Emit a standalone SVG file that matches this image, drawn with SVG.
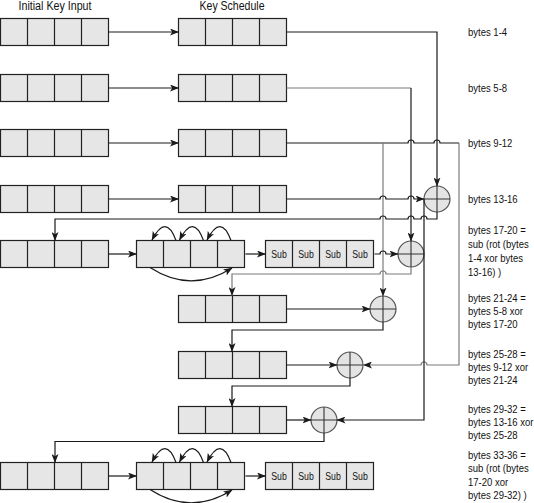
<svg xmlns="http://www.w3.org/2000/svg" width="534" height="503" viewBox="0 0 534 503">
<style>
.bx{fill:#e6e6e6;stroke:#222;stroke-width:1.2}
.cl{stroke:#222;stroke-width:1.2}
.c{fill:none;stroke:#1a1a1a;stroke-width:1.2}
.g{fill:none;stroke:#7a7a7a;stroke-width:1.2}
.a{marker-end:url(#ah)}
.x circle{fill:#e4e4e4;stroke:#555;stroke-width:1.2}
.x path{stroke:#333;stroke-width:1.1;fill:none}
text{font-family:"Liberation Sans",Arial,sans-serif;fill:#111}
.h{font-size:12.5px;text-anchor:middle}
.s{font-size:10.5px;text-anchor:middle}
.l{font-size:11.2px}
</style>
<defs>
<marker id="ah" viewBox="0 0 9 7" refX="8.5" refY="3.5" markerWidth="9" markerHeight="7" markerUnits="userSpaceOnUse" orient="auto">
<path d="M0,0 L9,3.5 L0,7 L2.2,3.5 z" fill="#1a1a1a"/>
</marker>
<g id="b4">
<rect class="bx" x="0" y="0" width="108" height="27"/>
<path class="cl" d="M27,0V27M54,0V27M81,0V27"/>
</g>
<g id="sb">
<use href="#b4"/>
<text class="s" x="13.5" y="17.5" textLength="15.5" lengthAdjust="spacingAndGlyphs">Sub</text>
<text class="s" x="40.5" y="17.5" textLength="15.5" lengthAdjust="spacingAndGlyphs">Sub</text>
<text class="s" x="67.5" y="17.5" textLength="15.5" lengthAdjust="spacingAndGlyphs">Sub</text>
<text class="s" x="94.5" y="17.5" textLength="15.5" lengthAdjust="spacingAndGlyphs">Sub</text>
</g>
<g id="xr" class="x">
<circle cx="0" cy="0" r="13"/>
<path d="M-13,0H13M0,-13V13"/>
</g>
</defs>

<text class="h" x="55" y="10" textLength="73" lengthAdjust="spacingAndGlyphs">Initial Key Input</text>
<text class="h" x="232" y="10" textLength="65" lengthAdjust="spacingAndGlyphs">Key Schedule</text>

<g id="in1"><use href="#b4" x="0.5" y="18.5"/></g>
<g id="in2"><use href="#b4" x="0.5" y="74.5"/></g>
<g id="in3"><use href="#b4" x="0.5" y="129.5"/></g>
<g id="in4"><use href="#b4" x="0.5" y="185.5"/></g>
<g id="ks1"><use href="#b4" x="178.5" y="18.5"/></g>
<g id="ks2"><use href="#b4" x="178.5" y="74.5"/></g>
<g id="ks3"><use href="#b4" x="178.5" y="129.5"/></g>
<g id="ks4"><use href="#b4" x="178.5" y="185.5"/></g>
<g id="w5"><use href="#b4" x="0.5" y="240.5"/></g>
<g id="rot5"><use href="#b4" x="136.5" y="240.5"/></g>
<g id="sub5"><use href="#sb" x="265.5" y="240.5"/></g>
<g id="ks6"><use href="#b4" x="178.5" y="295.5"/></g>
<g id="ks7"><use href="#b4" x="178.5" y="351.5"/></g>
<g id="ks8"><use href="#b4" x="178.5" y="406.5"/></g>
<g id="w9"><use href="#b4" x="0.5" y="462.5"/></g>
<g id="rot9"><use href="#b4" x="136.5" y="462.5"/></g>
<g id="sub9"><use href="#sb" x="265.5" y="462.5"/></g>

<g id="xor1"><use href="#xr" x="437" y="199"/></g>
<g id="xor2"><use href="#xr" x="411" y="254"/></g>
<g id="xor3"><use href="#xr" x="383" y="309"/></g>
<g id="xor4"><use href="#xr" x="350" y="365"/></g>
<g id="xor5"><use href="#xr" x="324" y="420"/></g>

<g id="connectors">
<path class="c a" d="M108.5,32H178.5"/>
<path class="c a" d="M108.5,88H178.5"/>
<path class="c a" d="M108.5,143H178.5"/>
<path class="c a" d="M108.5,199H178.5"/>
<path class="c a" d="M286.5,32H437V186"/>
<path class="g" d="M286.5,88H411"/>
<path class="c a" d="M411,88V241"/>
<path class="c" d="M286.5,143H408A3,3 0 0 1 414,143H434A3,3 0 0 1 440,143H459"/>
<path class="g a" d="M459,143V365H427A3,3 0 0 0 421,365H363.5"/>
<path class="g a" d="M383,143V296"/>
<path class="c a" d="M286.5,199H380A3,3 0 0 1 386,199H408A3,3 0 0 1 414,199H424"/>
<path class="c a" d="M424,199V420H337"/>
<path class="c a" d="M437,212V219H427A3,3 0 0 0 421,219H414A3,3 0 0 0 408,219H386A3,3 0 0 0 380,219H55V240.5"/>
<path class="c a" d="M108.5,254H136.5"/>
<path class="c a" d="M245.5,254H265.5"/>
<path class="c a" d="M374.5,254H380A3,3 0 0 1 386,254H398"/>
<path class="c a" d="M176,240.5Q166,213 152,240"/>
<path class="c a" d="M203.5,240.5Q193.5,213 179.5,240"/>
<path class="c a" d="M231,240.5Q221,213 207,240"/>
<path class="c a" d="M150,267.5Q191,294 232,268"/>
<path class="g a" d="M411,267V274H386A3,3 0 0 0 380,274H232V295.5"/>
<path class="c a" d="M286.5,309H370"/>
<path class="c a" d="M383,322V330H232V351.5"/>
<path class="c a" d="M286.5,365H337"/>
<path class="c a" d="M350,378V386H232V406.5"/>
<path class="c a" d="M286.5,420H311"/>
<path class="c a" d="M324,433V441.5H55V462.5"/>
<path class="c a" d="M108.5,476H136.5"/>
<path class="c a" d="M245.5,476H265.5"/>
<path class="c a" d="M176,462.5Q166,435 152,462"/>
<path class="c a" d="M203.5,462.5Q193.5,435 179.5,462"/>
<path class="c a" d="M231,462.5Q221,435 207,462"/>
<path class="c a" d="M150,489.5Q191,516 232,490"/>
</g>

<g id="labels" class="l" transform="translate(468 0) scale(0.85 1)">
<text x="0" y="36">bytes 1-4</text>
<text x="0" y="92">bytes 5-8</text>
<text x="0" y="147">bytes 9-12</text>
<text x="0" y="203">bytes 13-16</text>
<text x="0" y="234">bytes 17-20 =</text>
<text x="0" y="248">sub (rot (bytes</text>
<text x="0" y="262">1-4 xor bytes</text>
<text x="0" y="276">13-16) )</text>
<text x="0" y="302">bytes 21-24 =</text>
<text x="0" y="315">bytes 5-8 xor</text>
<text x="0" y="328">bytes 17-20</text>
<text x="0" y="358">bytes 25-28 =</text>
<text x="0" y="371">bytes 9-12 xor</text>
<text x="0" y="384">bytes 21-24</text>
<text x="0" y="413">bytes 29-32 =</text>
<text x="0" y="426">bytes 13-16 xor</text>
<text x="0" y="439">bytes 25-28</text>
<text x="0" y="459">bytes 33-36 =</text>
<text x="0" y="472">sub (rot (bytes</text>
<text x="0" y="486">17-20 xor</text>
<text x="0" y="499">bytes 29-32) )</text>
</g>
</svg>
